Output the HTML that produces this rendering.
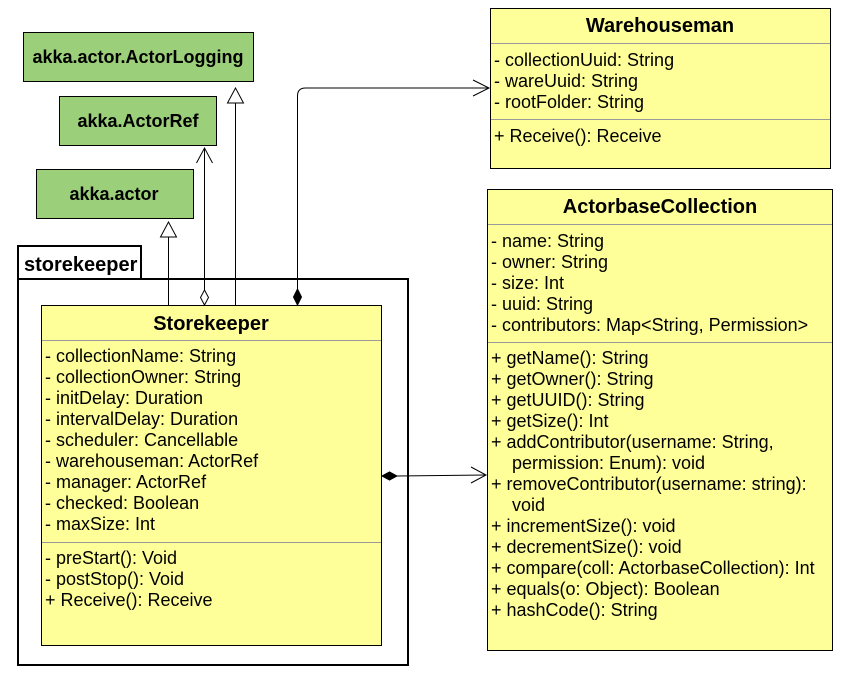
<!DOCTYPE html>
<html><head><meta charset="utf-8"><style>
html,body{margin:0;padding:0;background:#fff;width:847px;height:674px;overflow:hidden}
svg text{font-family:"Liberation Sans",Arial,sans-serif;font-size:18px;fill:#000}
.b{font-weight:bold;font-size:20px}
.g{font-weight:bold;font-size:18px}
</style></head><body>
<svg width="847" height="674" xmlns="http://www.w3.org/2000/svg">
<rect x="23.5" y="32.5" width="230" height="49" fill="#9ccf79" stroke="#000"/>
<text class="g" x="138" y="63" text-anchor="middle">akka.actor.ActorLogging</text>
<rect x="59.5" y="96.5" width="157" height="49" fill="#9ccf79" stroke="#000"/>
<text class="g" x="138" y="127" text-anchor="middle">akka.ActorRef</text>
<rect x="36.5" y="169.5" width="157" height="49" fill="#9ccf79" stroke="#000"/>
<text class="g" x="114" y="200" text-anchor="middle">akka.actor</text>

<rect x="18" y="246" width="123" height="33" fill="#fff" stroke="#000" stroke-width="2"/>
<text class="g" x="24" y="271" style="font-size:20px">storekeeper</text>
<rect x="18" y="279" width="390" height="386" fill="#fff" stroke="#000" stroke-width="2"/>

<rect x="41.5" y="305.5" width="340" height="340" fill="#ffff99" stroke="#000"/>
<text class="b" x="211" y="330" text-anchor="middle">Storekeeper</text>
<line x1="42" y1="340.5" x2="381" y2="340.5" stroke="#999"/>
<text x="45" y="362">- collectionName: String</text>
<text x="45" y="383">- collectionOwner: String</text>
<text x="45" y="404">- initDelay: Duration</text>
<text x="45" y="425">- intervalDelay: Duration</text>
<text x="45" y="446">- scheduler: Cancellable</text>
<text x="45" y="467">- warehouseman: ActorRef</text>
<text x="45" y="488">- manager: ActorRef</text>
<text x="45" y="509">- checked: Boolean</text>
<text x="45" y="530">- maxSize: Int</text>
<line x1="42" y1="542.5" x2="381" y2="542.5" stroke="#999"/>
<text x="45" y="564">- preStart(): Void</text>
<text x="45" y="585">- postStop(): Void</text>
<text x="45" y="606">+ Receive(): Receive</text>

<rect x="490.5" y="8.5" width="340" height="160" fill="#ffff99" stroke="#000"/>
<text class="b" x="660" y="32" text-anchor="middle">Warehouseman</text>
<line x1="491" y1="43.5" x2="830" y2="43.5" stroke="#999"/>
<text x="494" y="66">- collectionUuid: String</text>
<text x="494" y="87">- wareUuid: String</text>
<text x="494" y="108">- rootFolder: String</text>
<line x1="491" y1="119.5" x2="830" y2="119.5" stroke="#999"/>
<text x="494" y="142">+ Receive(): Receive</text>

<rect x="487.5" y="189.5" width="345" height="461" fill="#ffff99" stroke="#000"/>
<text class="b" x="660" y="213" text-anchor="middle">ActorbaseCollection</text>
<line x1="488" y1="224.5" x2="832" y2="224.5" stroke="#999"/>
<text x="491" y="247">- name: String</text>
<text x="491" y="268">- owner: String</text>
<text x="491" y="289">- size: Int</text>
<text x="491" y="310">- uuid: String</text>
<text x="491" y="331">- contributors: Map&lt;String, Permission&gt;</text>
<line x1="488" y1="342.5" x2="832" y2="342.5" stroke="#999"/>
<text x="491" y="364">+ getName(): String</text>
<text x="491" y="385">+ getOwner(): String</text>
<text x="491" y="406">+ getUUID(): String</text>
<text x="491" y="427">+ getSize(): Int</text>
<text x="491" y="448">+ addContributor(username: String,</text>
<text x="512" y="469">permission: Enum): void</text>
<text x="491" y="490">+ removeContributor(username: string):</text>
<text x="512" y="511">void</text>
<text x="491" y="532">+ incrementSize(): void</text>
<text x="491" y="553">+ decrementSize(): void</text>
<text x="491" y="574">+ compare(coll: ActorbaseCollection): Int</text>
<text x="491" y="595">+ equals(o: Object): Boolean</text>
<text x="491" y="616">+ hashCode(): String</text>

<g stroke="#000" fill="none" stroke-width="1">
<line x1="168.5" y1="305" x2="168.5" y2="237"/>
<polygon points="168.5,222 160.5,237 176.5,237" fill="#fff"/>
<line x1="235.5" y1="305" x2="235.5" y2="103"/>
<polygon points="235.5,88 227.5,103 243.5,103" fill="#fff"/>
<line x1="204.5" y1="290" x2="204.5" y2="148"/>
<polyline points="196.5,163 204.5,148 212.5,163"/>
<polygon points="204.5,290 208.5,297.5 204.5,305 200.5,297.5" fill="#fff"/>
<path d="M297.5,289 V96 Q297.5,88 305.5,88 H489"/>
<polyline points="473,80 489,88 473,96"/>
<polygon points="297.5,289 301.5,297 297.5,305 293.5,297" fill="#000"/>
<line x1="397" y1="476" x2="486" y2="475"/>
<polyline points="471,467 486,475 471,483"/>
<polygon points="382,476 389.5,472 397,476 389.5,480" fill="#000"/>
</g>
</svg>
</body></html>
